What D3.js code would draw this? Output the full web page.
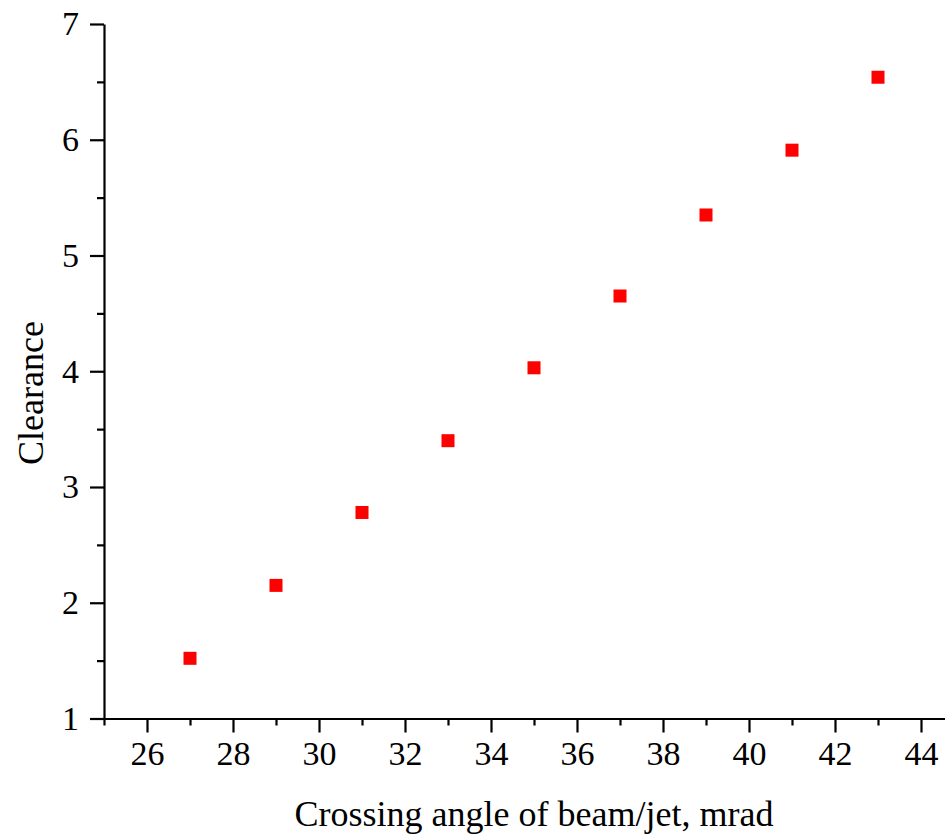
<!DOCTYPE html>
<html>
<head>
<meta charset="utf-8">
<script src="https://cdn.jsdelivr.net/npm/d3@7"></script>
<style>
  body { margin: 0; background: #fff; }
  .tick text { font-family: "Liberation Serif", "Times New Roman", serif; }
</style>
</head>
<body>
<div id="chart"></div>
<script>
// data
var angles = [27, 29, 31, 33, 35, 37, 39, 41, 43];
var clearance = [1.52, 2.15, 2.78, 3.40, 4.03, 4.65, 5.35, 5.91, 6.54];
var xTicks = [26, 28, 30, 32, 34, 36, 38, 40, 42, 44];
var xMinor = [25, 27, 29, 31, 33, 35, 37, 39, 41, 43];
var yTicks = [1, 2, 3, 4, 5, 6, 7];
var yMinor = [1.5, 2.5, 3.5, 4.5, 5.5, 6.5];

var W = 945, H = 835;
var margin = {top: 24, left: 104, bottom: 116};

var svg = d3.select("#chart")
    .append("svg")
    .attr("width", W)
    .attr("height", H);

// x runs past the right edge of the picture, like the original
var x = d3.scaleLinear()
    .domain([25, 45])
    .range([margin.left, margin.left + 20 * 43]);

var y = d3.scaleLinear()
    .domain([1, 7])
    .range([H - margin.bottom - 0.5, margin.top]);

// minor ticks first
svg.append("g")
    .attr("transform", "translate(0," + y(1) + ")")
    .call(d3.axisBottom(x).tickValues(xMinor).tickSize(7).tickFormat(""))
    .call(g => g.select(".domain").remove());

svg.append("g")
    .attr("transform", "translate(" + x(25) + ",0)")
    .call(d3.axisLeft(y).tickValues(yMinor).tickSize(7).tickFormat(""))
    .call(g => g.select(".domain").remove());

// X axis
var xAxis = svg.append("g")
    .attr("transform", "translate(0," + y(1) + ")")
    .call(d3.axisBottom(x).tickValues(xTicks).tickFormat(d3.format("d"))
        .tickSize(14).tickSizeOuter(0).tickPadding(8));
xAxis.selectAll("text").attr("font-size", 34).attr("fill", "#000");

// Y axis
var yAxis = svg.append("g")
    .attr("transform", "translate(" + x(25) + ",0)")
    .call(d3.axisLeft(y).tickValues(yTicks).tickFormat(d3.format("d"))
        .tickSize(14).tickSizeOuter(0).tickPadding(11));
yAxis.selectAll("text").attr("font-size", 34).attr("fill", "#000");

svg.selectAll(".domain, .tick line")
    .attr("stroke", "#000")
    .attr("stroke-width", 2.2);

// axis titles
svg.append("text")
    .attr("text-anchor", "middle")
    .attr("x", 534)
    .attr("y", 826)
    .attr("font-family", "Liberation Serif, Times New Roman, serif")
    .attr("font-size", 36)
    .text("Crossing angle of beam/jet, mrad");

svg.append("text")
    .attr("text-anchor", "middle")
    .attr("transform", "translate(43,393) rotate(-90)")
    .attr("font-family", "Liberation Serif, Times New Roman, serif")
    .attr("font-size", 36)
    .text("Clearance");

// points
var s = 13;
svg.selectAll("rect.pt")
    .data(angles)
    .enter()
    .append("rect")
    .attr("class", "pt")
    .attr("x", function(d){ return x(d) - s / 2; })
    .attr("y", function(d, i){ return y(clearance[i]) - s / 2; })
    .attr("width", s)
    .attr("height", s)
    .attr("fill", "#ff0000");
</script>
</body>
</html>
